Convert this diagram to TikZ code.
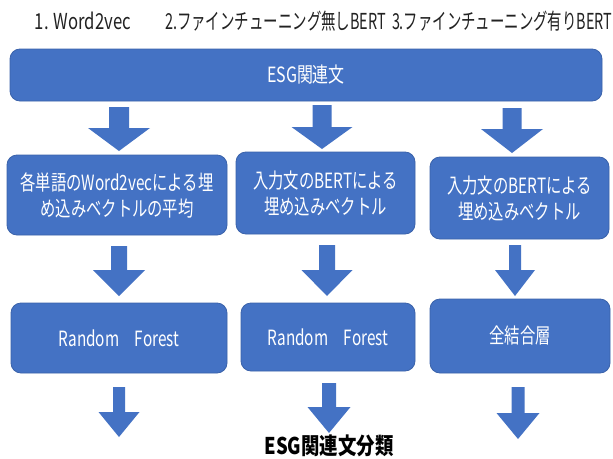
\documentclass[tikz,border=0pt]{standalone}
\usepackage{fontspec}
\setmainfont{Noto Sans CJK JP}
\usepackage{graphicx}
\definecolor{boxblue}{HTML}{4472C4}
\definecolor{edgeblue}{HTML}{3A62AA}
\definecolor{labelgray}{HTML}{222222}
\newcommand{\sq}[1]{\scalebox{0.73}[1]{#1}}
\newcommand{\fitw}[2]{\resizebox{#1}{\height}{#2}}
\newcommand{\barrow}[6]{\fill[boxblue] (#1-#5,#2) -- (#1+#5,#2) -- (#1+#5,#3) -- (#1+#6,#3) -- (#1,#4) -- (#1-#6,#3) -- (#1-#5,#3) -- cycle;}
\begin{document}
\begin{tikzpicture}[x=1pt,y=-1pt,
  box/.style={draw=edgeblue, line width=0.8pt, fill=boxblue, rounded corners=10pt,
    text=white, font=\fontsize{21}{26}\selectfont, align=center, inner sep=0pt},
  toplabel/.style={text=labelgray, font=\fontsize{22}{22}\selectfont, inner sep=0pt}]
\fill[white] (0,0) rectangle (613,458);
\useasboundingbox (0,0) rectangle (613,458);
% top labels
\node[toplabel] (t1) at (83,21) {\fitw{96pt}{1. Word2vec}};
\node[toplabel] (t2) at (275.5,21) {\fitw{221pt}{2.ファインチューニング無しBERT}};
\node[toplabel] (t3) at (502,21) {\fitw{220pt}{3.ファインチューニング有りBERT}};
% top bar
\node[box, minimum width=592pt, minimum height=52pt] (bar) at (306,75) {\scalebox{0.76}[1]{ESG関連文}};
% arrows row 1
\barrow{119}{107}{128}{151}{10}{31}
\barrow{322}{105}{127}{149}{9.5}{30.5}
\barrow{512}{108}{129}{153}{9.5}{31}
% row 2 boxes
\node[box, minimum width=220pt, minimum height=80pt] (L1) at (117,195) {\sq{各単語のWord2vecによる埋}\\\sq{め込みベクトルの平均}};
\node[box, minimum width=179pt, minimum height=82pt] (M1) at (325.5,193) {\sq{入力文のBERTによる}\\\sq{埋め込みベクトル}};
\node[box, minimum width=179pt, minimum height=82pt] (R1) at (519.5,198) {\sq{入力文のBERTによる}\\\sq{埋め込みベクトル}};
% arrows row 2
\barrow{119}{246}{270}{296}{8}{26}
\barrow{327}{245}{270}{296}{8}{25.5}
\barrow{515}{245}{270}{296}{6}{20}
% row 3 boxes
\node[box, minimum width=216pt, minimum height=70pt] (L2) at (119,338) {\sq{Random　Forest}};
\node[box, minimum width=174pt, minimum height=68pt] (M2) at (328,337) {\sq{Random　Forest}};
\node[box, minimum width=180pt, minimum height=74pt] (R2) at (520,336) {\sq{全結合層}};
% arrows row 3
\barrow{119}{387}{412}{437}{6}{20.5}
\barrow{329}{383}{407}{433}{7}{21.5}
\barrow{518}{387}{413}{439}{6.5}{21.5}
% output label
\node[inner sep=0pt, font=\bfseries\fontsize{23}{23}\selectfont] (out) at (329,446) {\scalebox{0.8}[1]{ESG関連文分類}};
\end{tikzpicture}
\end{document}
